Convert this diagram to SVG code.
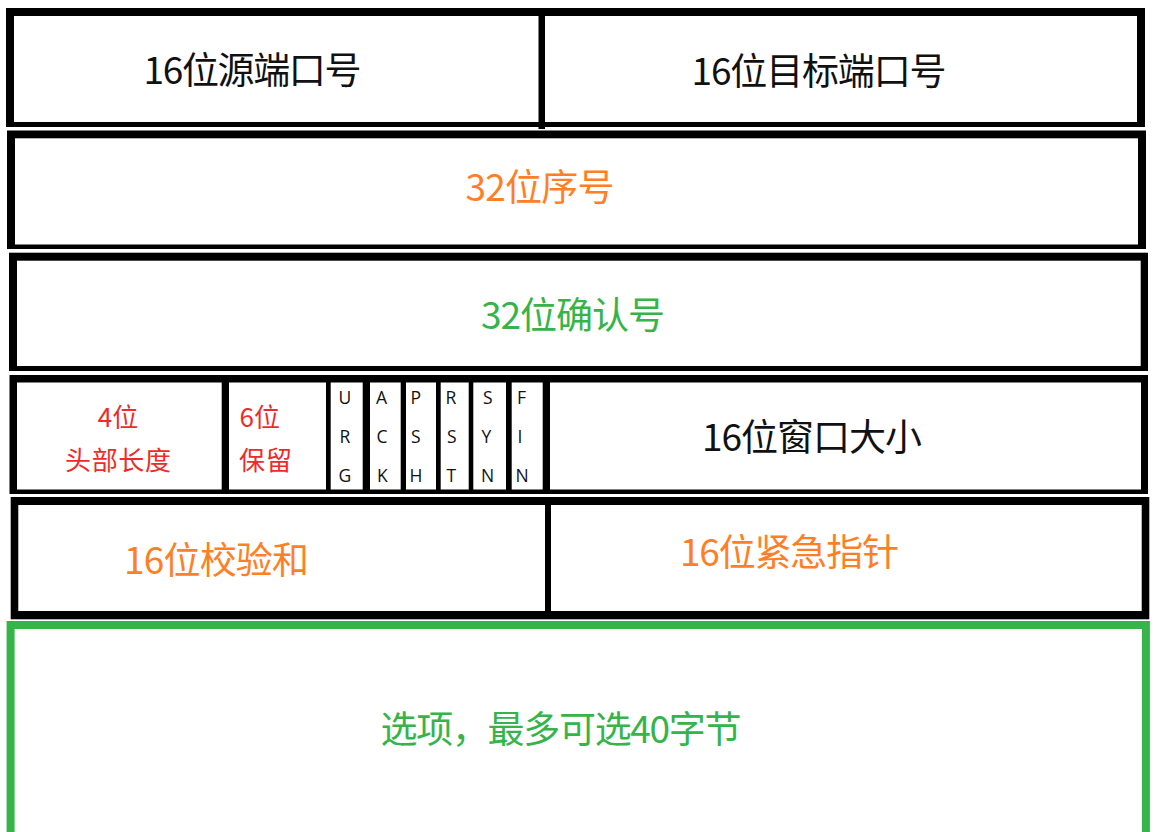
<svg xmlns="http://www.w3.org/2000/svg" width="1155" height="832" viewBox="0 0 1155 832">
<style>
.bd{fill:#000}
.cell{fill:#fff}
.t{font-family:"Noto Sans CJK SC","Microsoft YaHei",sans-serif;text-anchor:middle}
.big{font-size:37px}
.blk{fill:#111}
.org{fill:#ff7f27}
.grn{fill:#35b449}
.red{fill:#ee2a2a;font-size:26px}
.flag{font-family:"Open Sans","Noto Sans",sans-serif;font-size:17.5px;fill:#111}
</style>
<rect width="1155" height="832" fill="#fff"/>

<g id="row-ports">
  <rect class="bd" x="6" y="8" width="1139" height="119"/>
  <rect class="bd" x="538.5" y="120" width="6.5" height="9"/>
  <g id="src-port">
    <rect class="cell" x="14" y="16" width="524.5" height="106"/>
    <text class="t big blk" x="252.5" y="84" textLength="218" lengthAdjust="spacing">16位源端口号</text>
  </g>
  <g id="dst-port">
    <rect class="cell" x="545" y="16" width="592" height="106"/>
    <text class="t big blk" x="819" y="85" textLength="255" lengthAdjust="spacing">16位目标端口号</text>
  </g>
</g>

<g id="row-seq">
  <rect class="bd" x="7" y="130.5" width="1139" height="118.5"/>
  <rect class="cell" x="15" y="138.3" width="1123" height="106.2"/>
  <text class="t big org" x="540" y="201" textLength="149" lengthAdjust="spacing">32位序号</text>
</g>

<g id="row-ack">
  <rect class="bd" x="9" y="252.7" width="1139" height="118.3"/>
  <rect class="cell" x="17" y="260.7" width="1123.7" height="105.3"/>
  <text class="t big grn" x="573" y="329" textLength="184" lengthAdjust="spacing">32位确认号</text>
</g>

<g id="row-flags">
  <rect class="bd" x="9.5" y="375" width="1138.5" height="119"/>
  <g id="header-len">
    <rect class="cell" x="17" y="382.5" width="204.7" height="107"/>
    <text class="t red" x="118" y="427">4位</text>
    <text class="t red" x="118" y="470" textLength="106" lengthAdjust="spacing">头部长度</text>
  </g>
  <g id="reserved">
    <rect class="cell" x="229" y="382.5" width="97" height="107"/>
    <text class="t red" x="239.5" y="427" style="text-anchor:start">6位</text>
    <text class="t red" x="239" y="470" style="text-anchor:start" textLength="53" lengthAdjust="spacing">保留</text>
  </g>
  <g id="flag-urg">
    <rect class="cell" x="330.7" y="382.5" width="32" height="107"/>
    <text class="flag"><tspan x="338.5" y="403.5">U</tspan><tspan x="339.5" y="443">R</tspan><tspan x="338.5" y="482">G</tspan></text>
  </g>
  <g id="flag-ack">
    <rect class="cell" x="370" y="382.5" width="30.7" height="107"/>
    <text class="flag"><tspan x="376" y="403.5">A</tspan><tspan x="376.5" y="443">C</tspan><tspan x="377" y="482">K</tspan></text>
  </g>
  <g id="flag-psh">
    <rect class="cell" x="406" y="382.5" width="30" height="107"/>
    <text class="flag"><tspan x="410.5" y="403.5">P</tspan><tspan x="411" y="443">S</tspan><tspan x="409.5" y="482">H</tspan></text>
  </g>
  <g id="flag-rst">
    <rect class="cell" x="440.7" y="382.5" width="28" height="107"/>
    <text class="flag"><tspan x="445.5" y="403.5">R</tspan><tspan x="447" y="443">S</tspan><tspan x="446.5" y="482">T</tspan></text>
  </g>
  <g id="flag-syn">
    <rect class="cell" x="473.3" y="382.5" width="32.7" height="107"/>
    <text class="flag"><tspan x="483" y="403.5">S</tspan><tspan x="481.5" y="443">Y</tspan><tspan x="481" y="482">N</tspan></text>
  </g>
  <g id="flag-fin">
    <rect class="cell" x="511.7" y="382.5" width="31" height="107"/>
    <text class="flag"><tspan x="517" y="403.5">F</tspan><tspan x="517.5" y="443">I</tspan><tspan x="515.5" y="482">N</tspan></text>
  </g>
  <g id="window">
    <rect class="cell" x="550" y="382.5" width="591" height="107"/>
    <text class="t big blk" x="812" y="451" textLength="220" lengthAdjust="spacing">16位窗口大小</text>
  </g>
</g>

<g id="row-checksum">
  <rect class="bd" x="10.7" y="497" width="1138.6" height="122.3"/>
  <g id="checksum">
    <rect class="cell" x="18.3" y="505" width="526.7" height="106"/>
    <text class="t big org" x="216.5" y="574" textLength="185" lengthAdjust="spacing">16位校验和</text>
  </g>
  <g id="urgent-ptr">
    <rect class="cell" x="551" y="505" width="590.7" height="106"/>
    <text class="t big org" x="789.5" y="566" textLength="219" lengthAdjust="spacing">16位紧急指针</text>
  </g>
</g>

<g id="options">
  <rect x="10.6" y="625" width="1135.3" height="220" fill="#fff" stroke="#35b449" stroke-width="8"/>
  <text class="t big grn" x="561" y="743" textLength="361" lengthAdjust="spacing">选项，最多可选40字节</text>
</g>
</svg>
